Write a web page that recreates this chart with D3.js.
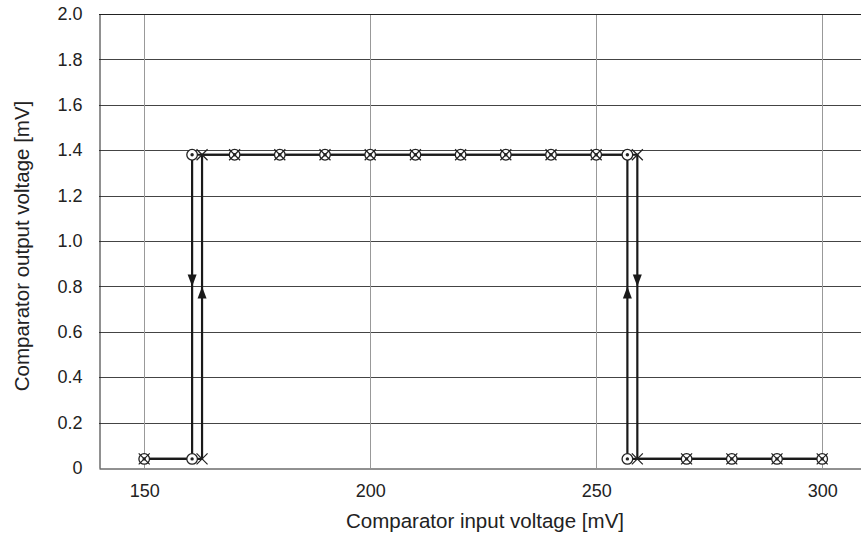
<!DOCTYPE html>
<html><head><meta charset="utf-8">
<script src="https://cdn.jsdelivr.net/npm/d3@7"></script>
<style>body{margin:0;background:#fff}svg{display:block}text{font-family:"Liberation Sans",Arial,sans-serif}</style>
</head><body><svg id="c" width="861" height="535"></svg>
<script>
// Data
const xTicks = [150, 200, 250, 300];
const yTicks = [0, 0.2, 0.4, 0.6, 0.8, 1.0, 1.2, 1.4, 1.6, 1.8, 2.0];
const yTickLabels = ["0", "0.2", "0.4", "0.6", "0.8", "1.0", "1.2", "1.4", "1.6", "1.8", "2.0"];
// increasing sweep (x markers)
const upX = [150, 162.8, 162.8, 170, 180, 190, 200, 210, 220, 230, 240, 250, 259.1, 259.1, 270, 280, 290, 300];
const upY = [0.04, 0.04, 1.38, 1.38, 1.38, 1.38, 1.38, 1.38, 1.38, 1.38, 1.38, 1.38, 1.38, 0.04, 0.04, 0.04, 0.04, 0.04];
// decreasing sweep (circle-dot markers)
const downX = [300, 290, 280, 270, 256.9, 256.9, 250, 240, 230, 220, 210, 200, 190, 180, 170, 160.6, 160.6, 150];
const downY = [0.04, 0.04, 0.04, 0.04, 0.04, 1.38, 1.38, 1.38, 1.38, 1.38, 1.38, 1.38, 1.38, 1.38, 1.38, 1.38, 0.04, 0.04];
// arrows: x position, tip value, direction (1 up, -1 down)
const arrowX = [160.6, 162.8, 256.9, 259.1];
const arrowTip = [0.8, 0.8, 0.8, 0.8];
const arrowDir = [-1, 1, 1, -1];

const svg = d3.select("#c");
const L = 99, T = 14, B = 468;
const x = d3.scaleLinear().domain([140, 310]).range([L, L + 170 * 4.52]);
const y = d3.scaleLinear().domain([0, 2]).range([B, T]);
const R = x(310);
const FONT = "Liberation Sans, Arial, sans-serif";

// horizontal grid
svg.append("g").selectAll("line").data(yTicks.slice(1)).join("line")
  .attr("x1", L).attr("x2", R).attr("y1", d => Math.round(y(d)) + 0.5).attr("y2", d => Math.round(y(d)) + 0.5)
  .attr("stroke", "#444").attr("stroke-width", 1);
// vertical grid
svg.append("g").selectAll("line").data(xTicks).join("line")
  .attr("y1", T).attr("y2", B).attr("x1", d => Math.round(x(d)) + 0.5).attr("x2", d => Math.round(x(d)) + 0.5)
  .attr("stroke", "#999").attr("stroke-width", 1);

// axes
const xAxis = d3.axisBottom(x).tickValues(xTicks).tickSize(0).tickPadding(16);
const gx = svg.append("g").attr("transform", `translate(0,${B + 0.5})`).call(xAxis);
gx.select(".domain").attr("stroke", "#222");
gx.selectAll("text").attr("font-size", 18).attr("fill", "#222").attr("font-family", FONT);
const yAxis = d3.axisLeft(y).tickValues(yTicks).tickFormat((d, i) => yTickLabels[i]).tickSize(0).tickPadding(17);
const gy = svg.append("g").attr("transform", `translate(${L + 0.5},0)`).call(yAxis);
gy.select(".domain").attr("stroke", "#222");
gy.selectAll("text").attr("font-size", 18).attr("fill", "#222").attr("font-family", FONT);
// top border
svg.append("line").attr("x1", L).attr("x2", R).attr("y1", T + 0.5).attr("y2", T + 0.5).attr("stroke", "#222");

// axis titles
svg.append("text").attr("x", 485).attr("y", 528).attr("text-anchor", "middle")
  .attr("font-size", 20.5).attr("fill", "#222").text("Comparator input voltage [mV]");
svg.append("text").attr("transform", "translate(29,246) rotate(-90)").attr("text-anchor", "middle")
  .attr("font-size", 20.5).attr("fill", "#222").text("Comparator output voltage [mV]");

const line = d3.line().x(d => x(d[0])).y(d => y(d[1]));
const upPts = upX.map((v, i) => [v, upY[i]]);
const downPts = downX.map((v, i) => [v, downY[i]]);
svg.append("path").attr("d", line(upPts)).attr("fill", "none").attr("stroke", "#1a1a1a").attr("stroke-width", 2.2);
svg.append("path").attr("d", line(downPts)).attr("fill", "none").attr("stroke", "#1a1a1a").attr("stroke-width", 2.2);

// arrows
svg.append("g").selectAll("path").data(arrowX).join("path")
  .attr("d", (d, i) => {
    const cx = x(d), ty = y(arrowTip[i]), dir = arrowDir[i];
    const by = ty + dir * 12;
    return `M${cx},${ty} L${cx - 4.5},${by} L${cx + 4.5},${by} Z`;
  }).attr("fill", "#1a1a1a");

// circle markers
const cm = svg.append("g").selectAll("g").data(downPts).join("g")
  .attr("transform", d => `translate(${x(d[0])},${y(d[1])})`);
cm.append("circle").attr("r", 5.3).attr("fill", "#fff").attr("stroke", "#222").attr("stroke-width", 1.3);
cm.append("circle").attr("r", 1.7).attr("fill", "#222");
// x markers
svg.append("g").selectAll("path").data(upPts).join("path")
  .attr("transform", d => `translate(${x(d[0])},${y(d[1])})`)
  .attr("d", "M-5.5,-5.5L5.5,5.5M-5.5,5.5L5.5,-5.5").attr("stroke", "#222").attr("stroke-width", 1.2).attr("fill", "none");
</script></body></html>
